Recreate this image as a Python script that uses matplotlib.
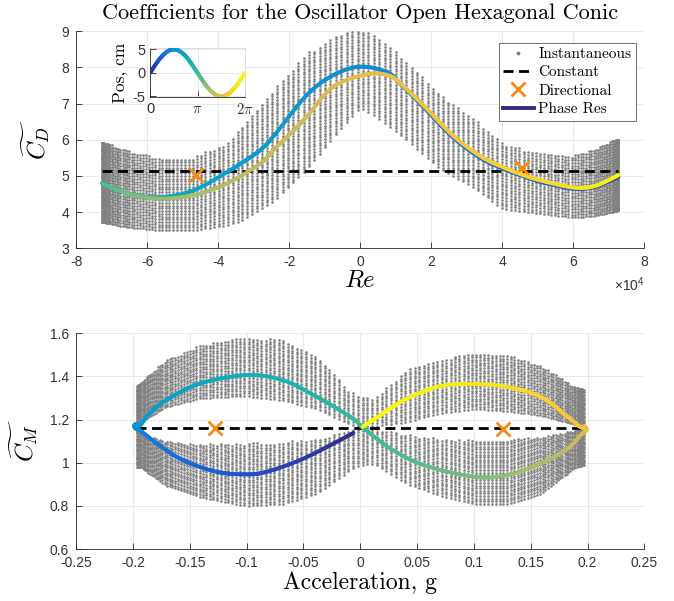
import numpy as np
import matplotlib
matplotlib.use("Agg")
import matplotlib.pyplot as plt
from matplotlib.collections import LineCollection
from matplotlib.colors import LinearSegmentedColormap
from matplotlib.lines import Line2D

# ---------------- data ----------------
# Top panel: phase-resolved drag coefficient vs Reynolds number
# forward half-cycle (phase 0 -> pi), Re decreasing
re_fwd = [7.27e4, 6.6e4, 6.0e4, 5.1e4, 4.6e4, 4.0e4, 3.38e4, 2.63e4, 1.88e4, 1.13e4,
          0.75e4, 0.0, -0.75e4, -1.5e4, -2.44e4, -2.82e4, -3.38e4, -3.76e4, -4.69e4,
          -5.63e4, -6.5e4, -7.27e4]
cd_fwd = [4.98, 4.70, 4.65, 4.83, 4.99, 5.21, 5.50, 6.05, 6.80, 7.55,
          7.87, 8.02, 7.79, 7.24, 6.10, 5.71, 5.33, 5.10, 4.60,
          4.41, 4.50, 4.79]
# return half-cycle (phase pi -> 2pi), Re increasing
re_back = [-7.27e4, -6.5e4, -5.63e4, -4.69e4, -3.76e4, -2.82e4, -2.44e4, -1.88e4, -1.5e4,
           -0.75e4, 0.19e4, 0.75e4, 1.13e4, 1.88e4, 2.63e4, 3.38e4, 4.0e4, 4.6e4, 5.1e4,
           6.0e4, 6.6e4, 7.27e4]
cd_back = [4.79, 4.50, 4.37, 4.47, 4.79, 5.34, 5.72, 6.25, 6.65,
           7.47, 7.81, 7.79, 7.56, 6.85, 6.10, 5.55, 5.25, 5.02, 4.87,
           4.68, 4.72, 5.02]
# envelope of the instantaneous cloud
re_env = [-7.27e4, -6.57e4, -5.63e4, -4.69e4, -3.76e4, -3.38e4, -2.44e4, -1.5e4, -0.56e4,
          0.0, 0.38e4, 1.31e4, 2.25e4, 3.19e4, 4.0e4, 5.0e4, 6.0e4, 6.6e4, 7.27e4]
cd_env_hi = [5.94, 5.71, 5.48, 5.52, 5.90, 6.32, 7.38, 8.39, 8.94,
             9.04, 8.94, 8.16, 7.24, 6.59, 5.9, 5.62, 5.57, 5.75, 6.06]
cd_env_lo = [3.73, 3.59, 3.50, 3.50, 3.64, 3.75, 4.3, 5.2, 6.3,
             6.9, 6.7, 6.0, 5.2, 4.7, 4.1, 3.97, 3.85, 3.9, 4.05]
re_const = [-7.27e4, 7.27e4]
cd_const = 5.14
re_dir = [-4.62e4, 4.55e4]
cd_dir = [5.02, 5.23]
re_amp = 7.27e4

# Bottom panel: inertia coefficient vs acceleration
acc_a = [-0.006, -0.0235, -0.053, -0.0824, -0.1, -0.1266, -0.156, -0.177, -0.194, -0.1975, -0.199]
cm_a = [1.138, 1.089, 1.012, 0.958, 0.946, 0.958, 1.012, 1.081, 1.151, 1.158, 1.170]
acc_b = [-0.199, -0.197, -0.1935, -0.1855, -0.1708, -0.141, -0.1, -0.0678, -0.0382, -0.0088, 0.0015]
cm_b = [1.170, 1.180, 1.175, 1.228, 1.29, 1.367, 1.406, 1.382, 1.305, 1.213, 1.166]
acc_c = [0.0015, 0.0265, 0.056, 0.1, 0.1296, 0.159, 0.1826, 0.194, 0.1975, 0.199]
cm_c = [1.166, 1.066, 0.989, 0.935, 0.943, 0.997, 1.066, 1.128, 1.142, 1.155]
acc_d = [0.199, 0.1975, 0.194, 0.1826, 0.159, 0.1296, 0.1, 0.0707, 0.0412, 0.0177, 0.002]
cm_d = [1.155, 1.168, 1.165, 1.213, 1.305, 1.351, 1.364, 1.355, 1.298, 1.22, 1.166]
acc_amp = 0.199
# envelope of the instantaneous cloud (upper and lower bands)
acc_env = [-0.197, -0.193, -0.171, -0.141, -0.1, -0.068, -0.038, -0.009, 0.0,
           0.012, 0.041, 0.07, 0.1, 0.13, 0.159, 0.189, 0.197]
cm_up_hi = [1.36, 1.375, 1.475, 1.544, 1.583, 1.568, 1.49, 1.33, 1.31,
            1.30, 1.43, 1.48, 1.506, 1.50, 1.45, 1.35, 1.34]
cm_up_lo = [1.17, 1.19, 1.26, 1.30, 1.31, 1.29, 1.25, 1.18, 1.17,
            1.17, 1.19, 1.23, 1.25, 1.24, 1.22, 1.18, 1.17]
cm_lo_hi = [1.17, 1.14, 1.10, 1.085, 1.09, 1.095, 1.11, 1.15, 1.17,
            1.16, 1.13, 1.11, 1.105, 1.11, 1.12, 1.15, 1.17]
cm_lo_lo = [0.98, 0.98, 0.896, 0.842, 0.80, 0.81, 0.858, 0.966, 0.99,
            0.997, 0.904, 0.85, 0.81, 0.81, 0.858, 0.98, 0.99]
acc_const = [-0.197, 0.197]
cm_const = 1.162
acc_dir = [-0.1275, 0.126]
cm_dir = [1.163, 1.154]

# Inset: oscillator position over one cycle
inset_phase = np.array([0, 1, 2, 3, 4, 5, 6, 7, 8, 9, 10, 11, 12, 13, 14, 15, 16,
                        17, 18, 19, 20, 21, 22, 23, 24]) * np.pi / 12
inset_pos = [0.0, 1.29, 2.5, 3.54, 4.33, 4.83, 5.0, 4.83, 4.33, 3.54, 2.5, 1.29, 0.0,
             -1.29, -2.5, -3.54, -4.33, -4.83, -5.0, -4.83, -4.33, -3.54, -2.5, -1.29, 0.0]

# ---------------- styling ----------------
parula_pts = [
    (0.2081, 0.1663, 0.5292), (0.1253, 0.3242, 0.8303), (0.0629, 0.4737, 0.8554),
    (0.0488, 0.5772, 0.8228), (0.0228, 0.6535, 0.7768), (0.1133, 0.7015, 0.6859),
    (0.3482, 0.7424, 0.5473), (0.6473, 0.7456, 0.4188), (0.8507, 0.7299, 0.3360),
    (0.9990, 0.7653, 0.2164), (0.9589, 0.8949, 0.1132), (0.9763, 0.9831, 0.0538)]
parula = LinearSegmentedColormap.from_list("parula", parula_pts)
ORANGE = "#F98A10"
GRAY = "0.5"
AXC = "0.15"
SERIF = "cmr10"

plt.rcParams["font.family"] = ["Liberation Sans", "DejaVu Sans"]
plt.rcParams["mathtext.fontset"] = "cm"
plt.rcParams["axes.unicode_minus"] = False


def catmull(x, y, n=14):
    pts = np.column_stack([np.asarray(x, float), np.asarray(y, float)])
    P = np.vstack([pts[0], pts, pts[-1]])
    out = []
    t = np.linspace(0, 1, n, endpoint=False)[:, None]
    for i in range(1, len(P) - 2):
        p0, p1, p2, p3 = P[i - 1], P[i], P[i + 1], P[i + 2]
        seg = 0.5 * (2 * p1 + (-p0 + p2) * t + (2 * p0 - 5 * p1 + 4 * p2 - p3) * t ** 2
                     + (-p0 + 3 * p1 - 3 * p2 + p3) * t ** 3)
        out.append(seg)
    out.append(pts[-1][None])
    s = np.vstack(out)
    return s[:, 0], s[:, 1]


def colored_line(ax, x, y, c, lw=2.8, z=4):
    pts = np.column_stack([x, y])
    segs = np.stack([pts[:-1], pts[1:]], axis=1)
    lc = LineCollection(segs, cmap=parula, norm=plt.Normalize(0, 1), linewidths=lw,
                        capstyle="round", joinstyle="round", zorder=z)
    c = np.asarray(c)
    lc.set_array(0.5 * (c[:-1] + c[1:]))
    ax.add_collection(lc)


def cloud_columns(ax, xcols, xe, lo, hi, step):
    xs, ys = [], []
    for xc in xcols:
        l = np.interp(xc, xe, lo)
        h = np.interp(xc, xe, hi)
        yy = np.arange(l, h + 1e-9, step)
        xs.append(np.full(yy.shape, xc))
        ys.append(yy)
    ax.scatter(np.concatenate(xs), np.concatenate(ys), s=3.6, c=GRAY, marker="o",
               linewidths=0, zorder=2)


def style_axes(ax):
    for side in ("top", "right"):
        ax.spines[side].set_visible(False)
    for side in ("left", "bottom"):
        ax.spines[side].set_color(AXC)
        ax.spines[side].set_linewidth(0.6)
    ax.tick_params(direction="in", length=4, width=0.6, color=AXC, labelcolor="0.2",
                   labelsize=10)
    ax.tick_params(axis="y", pad=5)
    ax.tick_params(axis="x", pad=5)
    ax.grid(True, color="0.9", linewidth=0.6)
    ax.set_axisbelow(True)


fig = plt.figure(figsize=(6.74, 6.01), dpi=100)
ax1 = fig.add_axes([0.113, 0.587, 0.843, 0.361])
ax2 = fig.add_axes([0.113, 0.0865, 0.843, 0.359])
axin = fig.add_axes([0.2226, 0.8386, 0.141, 0.0815])

# ---- top panel ----
style_axes(ax1)
cols_top = re_amp * np.cos(np.linspace(0, np.pi, 150))
cloud_columns(ax1, cols_top, re_env, cd_env_lo, cd_env_hi, 0.075)
ax1.plot(re_const, [cd_const, cd_const], color="k", lw=2, dashes=(3.6, 2), zorder=3)
ax1.plot(re_dir, cd_dir, ls="none", marker="x", ms=10, mew=2, color=ORANGE, zorder=3)
xf, yf = catmull(re_fwd, cd_fwd)
pf = np.arccos(np.clip(xf / re_amp, -1, 1)) / (2 * np.pi)
xb, yb = catmull(re_back, cd_back)
pb = (2 * np.pi - np.arccos(np.clip(xb / re_amp, -1, 1))) / (2 * np.pi)
colored_line(ax1, np.concatenate([xf, xb]), np.concatenate([yf, yb]), np.concatenate([pf, pb]))
ax1.set_xlim(-8e4, 8e4)
ax1.set_ylim(3, 9)
ax1.set_xticks(np.arange(-8e4, 8.1e4, 2e4))
ax1.set_xticklabels(["-8", "-6", "-4", "-2", "0", "2", "4", "6", "8"])
ax1.set_yticks(np.arange(3, 9.1, 1))
ax1.set_xlabel(r"$Re$", fontsize=18, labelpad=-1)
ax1.set_ylabel(r"$\widetilde{C_D}$", fontsize=18, labelpad=7)
ax1.text(1.0, -0.17, r"$\mathregular{\times10^{4}}$", transform=ax1.transAxes,
         ha="right", va="center", fontsize=10, color="0.2")
ax1.set_title("Coefficients for the Oscillator Open Hexagonal Conic", family=SERIF,
              fontsize=16, pad=9)

handles = [
    Line2D([], [], ls="none", marker="o", ms=1.8, color=GRAY),
    Line2D([], [], color="k", lw=2, dashes=(3.6, 2)),
    Line2D([], [], ls="none", marker="x", ms=10, mew=2, color=ORANGE),
    Line2D([], [], color=parula_pts[0], lw=2.8),
]
leg = ax1.legend(handles, ["Instantaneous", "Constant", "Directional", "Phase Res"],
                 loc="upper right", bbox_to_anchor=(0.985, 0.947), prop={"family": SERIF, "size": 11},
                 frameon=True, fancybox=False, framealpha=1, edgecolor="0.35",
                 borderpad=0.3, handlelength=2.0, handletextpad=0.3, labelspacing=0.3,
                 borderaxespad=0)
leg.get_frame().set_linewidth(0.6)
leg.set_zorder(6)

# ---- inset ----
style_axes(axin)
axin.set_facecolor("white")
axin.set_zorder(5)
axin.tick_params(labelsize=10.5, pad=3.5)
xi, yi = catmull(inset_phase, inset_pos, n=8)
colored_line(axin, xi, yi, xi / (2 * np.pi), lw=2.8)
axin.set_xlim(0, 2 * np.pi)
axin.set_ylim(-5.15, 5.3)
axin.set_xticks([0, np.pi, 2 * np.pi])
axin.set_xticklabels(["0", r"$\pi$", r"$2\pi$"])
axin.set_yticks([-5, 0, 5])
axin.set_ylabel("Pos, cm", family=SERIF, fontsize=12.5, labelpad=3)
for sp in ("top", "right"):
    axin.spines[sp].set_visible(True)
    axin.spines[sp].set_color("0.85")
    axin.spines[sp].set_linewidth(0.6)

# ---- bottom panel ----
style_axes(ax2)
cols_bot = acc_amp * np.sin(np.linspace(-np.pi / 2, np.pi / 2, 150))
cols_bot = cols_bot[np.abs(cols_bot) <= 0.197]
cloud_columns(ax2, cols_bot, acc_env, cm_up_lo, cm_up_hi, 0.012)
cloud_columns(ax2, cols_bot, acc_env, cm_lo_lo, cm_lo_hi, 0.012)
ax2.plot(acc_const, [cm_const, cm_const], color="k", lw=2, dashes=(3.6, 2), zorder=3)
ax2.plot(acc_dir, cm_dir, ls="none", marker="x", ms=10, mew=2, color=ORANGE, zorder=3)


def phase_from_acc(a, branch):
    s = np.arcsin(np.clip(np.abs(a) / acc_amp, 0, 1))
    if branch == 0:
        return s / (2 * np.pi)
    if branch == 1:
        return (np.pi - s) / (2 * np.pi)
    if branch == 2:
        return (np.pi + s) / (2 * np.pi)
    return (2 * np.pi - s) / (2 * np.pi)


xs_all, ys_all, cs_all = [], [], []
for k, (ax_, ay_) in enumerate([(acc_a, cm_a), (acc_b, cm_b), (acc_c, cm_c), (acc_d, cm_d)]):
    xx, yy = catmull(ax_, ay_)
    xs_all.append(xx)
    ys_all.append(yy)
    cs_all.append(phase_from_acc(xx, k))
colored_line(ax2, np.concatenate(xs_all), np.concatenate(ys_all), np.concatenate(cs_all))
ax2.set_xlim(-0.25, 0.25)
ax2.set_ylim(0.6, 1.6)
ax2.set_xticks(np.arange(-0.25, 0.251, 0.05))
ax2.set_xticklabels(["-0.25", "-0.2", "-0.15", "-0.1", "-0.05", "0", "0.05", "0.1",
                     "0.15", "0.2", "0.25"])
ax2.set_yticks(np.arange(0.6, 1.61, 0.2))
ax2.set_yticklabels(["0.6", "0.8", "1", "1.2", "1.4", "1.6"])
ax2.set_xlabel("Acceleration, g", family=SERIF, fontsize=17, labelpad=1)
ax2.set_ylabel(r"$\widetilde{C_M}$", fontsize=18, labelpad=7)

fig.savefig("out.png", dpi=100)
